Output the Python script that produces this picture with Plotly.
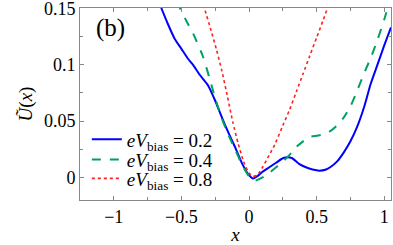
import plotly.graph_objects as go

# eV_bias = 0.2
x_02 = [-0.68, -0.648, -0.6, -0.55, -0.5, -0.45, -0.415, -0.365, -0.305, -0.25, -0.2, -0.15, -0.1, -0.05, 0.0, 0.03,
        0.06, 0.1, 0.15, 0.2, 0.25, 0.285, 0.32, 0.37, 0.42, 0.47, 0.52, 0.57, 0.6, 0.65, 0.7, 0.75, 0.8, 0.85,
        0.9, 0.95, 1.0, 1.05]
y_02 = [0.16, 0.15, 0.136, 0.123, 0.114, 0.105, 0.1, 0.091, 0.082, 0.068, 0.053, 0.039, 0.026, 0.012, 0.002, -0.001,
        0.001, 0.005, 0.009, 0.013, 0.017, 0.018, 0.017, 0.012, 0.009, 0.007, 0.006, 0.007, 0.009, 0.014, 0.022, 0.032,
        0.045, 0.062, 0.083, 0.1, 0.117, 0.133]

# eV_bias = 0.4
x_04 = [-0.53, -0.51, -0.46, -0.415, -0.34, -0.29, -0.25, -0.2, -0.15, -0.1, -0.05, 0.0, 0.04, 0.1, 0.15, 0.2, 0.25,
        0.3, 0.35, 0.4, 0.45, 0.5, 0.55, 0.6, 0.65, 0.7, 0.75, 0.8, 0.85, 0.9, 0.95, 1.0, 1.03]
y_04 = [0.156, 0.15, 0.138, 0.128, 0.107, 0.087, 0.07, 0.052, 0.037, 0.024, 0.011, 0.001, -0.003, 0.0, 0.004, 0.009,
        0.014, 0.02, 0.027, 0.032, 0.036, 0.037, 0.038, 0.041, 0.046, 0.053, 0.063, 0.077, 0.092, 0.106, 0.122, 0.14,
        0.152]

# eV_bias = 0.8
x_08 = [-0.35, -0.33, -0.28, -0.24, -0.2, -0.16, -0.12, -0.08, -0.04, 0.0, 0.03, 0.06, 0.1, 0.15, 0.19, 0.25, 0.3,
        0.35, 0.4, 0.45, 0.5, 0.55, 0.58, 0.6]
y_08 = [0.158, 0.15, 0.13, 0.113, 0.094, 0.072, 0.049, 0.03, 0.014, 0.004, 0.001, 0.002, 0.009, 0.02, 0.029, 0.046,
        0.06, 0.076, 0.092, 0.108, 0.124, 0.14, 0.15, 0.156]

labels = ["<i>eV</i><sub>bias</sub> = 0.2", "<i>eV</i><sub>bias</sub> = 0.4", "<i>eV</i><sub>bias</sub> = 0.8"]

x_ticks = [-1, -0.5, 0, 0.5, 1]
x_ticklabels = ["\u22121", "\u22120.5", "0", "0.5", "1"]
y_ticks = [0, 0.05, 0.1, 0.15]
y_ticklabels = ["0", "0.05", "0.1", "0.15"]

FONT = "'Liberation Serif', 'DejaVu Serif', serif"

fig = go.Figure()
fig.add_trace(go.Scatter(x=x_02, y=y_02, mode="lines", name=labels[0], legend="legend",
                         line=dict(color="#0000ff", width=2, shape="spline", smoothing=0.6)))
fig.add_trace(go.Scatter(x=x_04, y=y_04, mode="lines", name=labels[1], legend="legend2",
                         line=dict(color="#00a060", width=2, dash="dash", shape="spline", smoothing=0.6)))
fig.add_trace(go.Scatter(x=x_08, y=y_08, mode="lines", name=labels[2], legend="legend3",
                         line=dict(color="#ff2020", width=1.6, dash="dot", shape="spline", smoothing=0.6)))

axis_common = dict(showgrid=False, zeroline=False, showline=True, linecolor="#888888", linewidth=1,
                   mirror="ticks", ticks="inside", ticklen=4, tickcolor="#888888", automargin=False,
                   ticklabeloverflow="allow",
                   tickfont=dict(family=FONT, size=18, color="black"))

fig.update_xaxes(range=[-1.25, 1.05], tickvals=x_ticks, ticktext=x_ticklabels,
                 minor=dict(dtick=0.25, ticks="inside", ticklen=3, tickcolor="#888888", showgrid=False),
                 title=dict(text="<i>x</i>", font=dict(family=FONT, size=19, color="black"), standoff=2),
                 **axis_common)
fig.update_yaxes(range=[-0.02, 0.1502], tickvals=y_ticks, ticktext=y_ticklabels,
                 minor=dict(dtick=0.025, tick0=0, ticks="inside", ticklen=3, tickcolor="#888888", showgrid=False),
                 title=dict(text="<i>\u0168</i>(<i>x</i>)", font=dict(family=FONT, size=19, color="black"), standoff=6),
                 **axis_common)

fig.add_annotation(text="(b)", xref="paper", yref="paper", x=0.045, y=0.98, xanchor="left", yanchor="top",
                   showarrow=False, font=dict(family=FONT, size=25, color="black"))

legend_common = dict(x=0.022, xanchor="left", yanchor="middle", bgcolor="rgba(0,0,0,0)",
                     font=dict(family=FONT, size=19, color="black"), itemwidth=30, itemsizing="trace")

fig.update_layout(
    width=393, height=245,
    margin=dict(l=80, r=2, t=8, b=45),
    paper_bgcolor="white", plot_bgcolor="white",
    showlegend=True,
    legend=dict(y=0.315, **legend_common),
    legend2=dict(y=0.21, **legend_common),
    legend3=dict(y=0.112, **legend_common),
)

fig.write_html("out.html", config={"displayModeBar": False},
               post_script="document.body.style.margin='0';document.body.style.overflow='hidden';")
